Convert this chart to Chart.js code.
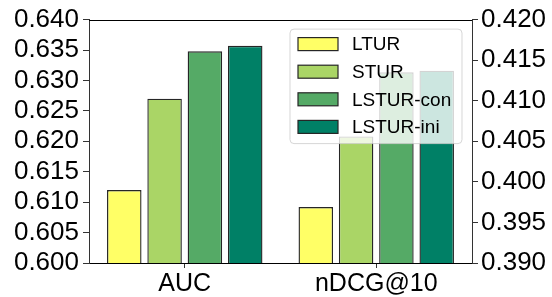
<!DOCTYPE html>
<html>
<head>
<meta charset="utf-8">
<script src="https://cdn.jsdelivr.net/npm/chart.js@4/dist/chart.umd.min.js"></script>
<style>
  html, body { margin: 0; padding: 0; background: #fff; }
  #wrap { width: 552px; height: 297px; position: relative; }
</style>
</head>
<body>
<div id="wrap"><canvas id="c" width="552" height="297"></canvas></div>
<script>
// ---- data ----
const categories = ['AUC', 'nDCG@10'];
const seriesNames = ['LTUR', 'STUR', 'LSTUR-con', 'LSTUR-ini'];
const seriesColors = ['#FFFF66', '#AAD566', '#55AA66', '#008066'];
const aucValues = [0.612, 0.627, 0.6348, 0.6357];     // left axis
const ndcgValues = [0.3969, 0.4056, 0.4135, 0.4137];  // right axis
const leftAxisRange = [0.600, 0.640, 0.005];
const rightAxisRange = [0.390, 0.420, 0.005];

const FONT = "'Liberation Sans', Arial, sans-serif";

const datasets = [];
seriesNames.forEach((name, i) => {
  datasets.push({
    label: name, seriesIndex: i, yAxisID: 'y',
    data: [aucValues[i], null],
    backgroundColor: seriesColors[i]
  });
});
seriesNames.forEach((name, i) => {
  datasets.push({
    label: name, seriesIndex: i, yAxisID: 'y1',
    data: [null, ndcgValues[i]],
    backgroundColor: seriesColors[i]
  });
});
datasets.forEach(d => {
  d.borderColor = '#262626';
  d.borderWidth = 1.4;
  d.borderSkipped = false;
  d.skipNull = true;
  d.categoryPercentage = 0.842;
  d.barPercentage = 0.856;
});

const overlay = {
  id: 'overlay',
  afterDatasetsDraw(chart) {
    const ctx = chart.ctx;
    const a = chart.chartArea;
    ctx.save();
    // top spine
    ctx.strokeStyle = '#000';
    ctx.lineWidth = 1;
    ctx.beginPath();
    ctx.moveTo(a.left, Math.round(a.top) + 0.5);
    ctx.lineTo(a.right, Math.round(a.top) + 0.5);
    ctx.stroke();

    // legend box
    const lx = a.left + 201, ly = a.top + 9.5, lw = 172, lh = 114.5, r = 4;
    ctx.beginPath();
    ctx.moveTo(lx + r, ly);
    ctx.lineTo(lx + lw - r, ly);
    ctx.quadraticCurveTo(lx + lw, ly, lx + lw, ly + r);
    ctx.lineTo(lx + lw, ly + lh - r);
    ctx.quadraticCurveTo(lx + lw, ly + lh, lx + lw - r, ly + lh);
    ctx.lineTo(lx + r, ly + lh);
    ctx.quadraticCurveTo(lx, ly + lh, lx, ly + lh - r);
    ctx.lineTo(lx, ly + r);
    ctx.quadraticCurveTo(lx, ly, lx + r, ly);
    ctx.closePath();
    ctx.fillStyle = 'rgba(255,255,255,0.8)';
    ctx.fill();
    ctx.strokeStyle = 'rgba(204,204,204,0.8)';
    ctx.lineWidth = 1;
    ctx.stroke();

    ctx.font = '19px ' + FONT;
    ctx.textBaseline = 'middle';
    ctx.textAlign = 'left';
    seriesNames.forEach((name, i) => {
      const cy = ly + 15 + i * 27.6;
      ctx.fillStyle = seriesColors[i];
      ctx.fillRect(lx + 8, cy - 6.5, 40, 13);
      ctx.strokeStyle = '#262626';
      ctx.lineWidth = 1.2;
      ctx.strokeRect(lx + 8, cy - 6.5, 40, 13);
      ctx.fillStyle = '#000';
      ctx.fillText(name, lx + 62, cy + 1);
    });
    ctx.restore();
  }
};

new Chart(document.getElementById('c'), {
  type: 'bar',
  data: { labels: categories, datasets },
  plugins: [overlay],
  options: {
    responsive: false,
    animation: false,
    events: [],
    layout: { padding: { top: 15, bottom: 0, left: 0, right: 0 } },
    plugins: { legend: { display: false }, tooltip: { enabled: false } },
    scales: {
      x: {
        offset: true,
        grid: { display: true, offset: false, drawOnChartArea: false, drawTicks: true, tickLength: 5, tickColor: '#333', lineWidth: 1 },
        border: { display: true, color: '#000', width: 1 },
        ticks: { color: '#000', font: { family: FONT, size: 25 }, padding: 1, autoSkip: false, maxRotation: 0 },
        afterFit(s) { s.height = 34; }
      },
      y: {
        position: 'left',
        min: leftAxisRange[0], max: leftAxisRange[1],
        grid: { display: true, drawOnChartArea: false, drawTicks: true, tickLength: 6, tickColor: '#333' },
        border: { display: true, color: '#333', width: 1 },
        ticks: { stepSize: leftAxisRange[2], autoSkip: false, color: '#000', font: { family: FONT, size: 26 }, padding: 4,
                 callback: v => v.toFixed(3) },
        afterFit(s) { s.width = 89; }
      },
      y1: {
        position: 'right',
        min: rightAxisRange[0], max: rightAxisRange[1],
        grid: { display: true, drawOnChartArea: false, drawTicks: true, tickLength: 6, tickColor: '#333' },
        border: { display: true, color: '#333', width: 1 },
        ticks: { stepSize: rightAxisRange[2], autoSkip: false, color: '#000', font: { family: FONT, size: 26 }, padding: 3,
                 callback: v => v.toFixed(3) },
        afterFit(s) { s.width = 80; }
      }
    }
  }
});
</script>
</body>
</html>
